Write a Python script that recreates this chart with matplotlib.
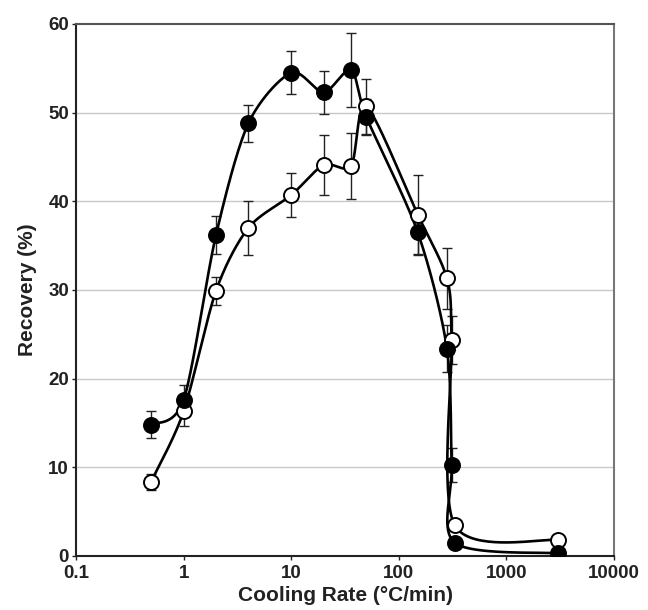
import numpy as np
import matplotlib
matplotlib.use("Agg")
import matplotlib.pyplot as plt

plt.rcParams['font.family'] = ['Liberation Sans', 'DejaVu Sans']

# Data
rate = [0.5, 1, 2, 4, 10, 20, 36, 50, 150, 280, 310, 330, 3000]
filled_y = [14.8, 17.6, 36.2, 48.8, 54.5, 52.3, 54.8, 49.5, 36.5, 23.4, 10.3, 1.5, 0.3]
filled_err = [1.5, 1.7, 2.1, 2.1, 2.4, 2.4, 4.2, 2.0, 2.4, 2.6, 1.9, 0.0, 0.0]
open_y = [8.4, 16.3, 29.9, 37.0, 40.7, 44.1, 44.0, 50.7, 38.5, 31.3, 24.4, 3.5, 1.8]
open_err = [0.9, 1.6, 1.6, 3.0, 2.5, 3.4, 3.7, 3.1, 4.5, 3.4, 2.7, 0.0, 0.0]

xticks = [0.1, 1, 10, 100, 1000, 10000]
xticklabels = ['0.1', '1', '10', '100', '1000', '10000']
yticks = [0, 10, 20, 30, 40, 50, 60]

W, H, DPI = 648, 610, 100
fig = plt.figure(figsize=(W / DPI, H / DPI), dpi=DPI)
ax = fig.add_axes([76 / W, 1 - 556 / H, (614 - 76) / W, (556 - 24) / H])
ax.set_xscale('log')
ax.set_xlim(0.1, 10000)
ax.set_ylim(0, 60)

# screen-space scaling for smoothing (px per decade / px per unit)
sx, sy = 107.6, 8.867


def smooth(xs, ys, n=40, k=7.0):
    px = np.log10(np.asarray(xs, float)) * sx
    py = np.asarray(ys, float) * sy
    P = np.column_stack([px, py])
    m = len(P)
    out = []
    for i in range(m - 1):
        p0 = P[i - 1] if i > 0 else P[i]
        p1 = P[i]
        p2 = P[i + 1]
        p3 = P[i + 2] if i + 2 < m else P[i + 1]
        c1 = p1 + (p2 - p0) / k
        c2 = p2 - (p3 - p1) / k
        t = np.linspace(0, 1, n)[:, None]
        seg = ((1 - t) ** 3) * p1 + 3 * ((1 - t) ** 2) * t * c1 + 3 * (1 - t) * t ** 2 * c2 + t ** 3 * p2
        out.append(seg if i == 0 else seg[1:])
    C = np.vstack(out)
    return 10 ** (C[:, 0] / sx), C[:, 1] / sy


for ys in (open_y, filled_y):
    cx, cy = smooth(rate, ys)
    ax.plot(cx, cy, color='black', lw=1.9, zorder=3, solid_capstyle='round')

for ys, err in ((open_y, open_err), (filled_y, filled_err)):
    e = np.array(err)
    mask = e > 0
    ax.errorbar(np.array(rate)[mask], np.array(ys)[mask], yerr=e[mask], fmt='none',
                ecolor='#222222', elinewidth=1.0, capsize=3.5, capthick=1.0, zorder=2)

ax.plot(rate, open_y, 'o', ms=10.8, mfc='white', mec='black', mew=1.4, zorder=4, linestyle='none')
ax.plot(rate, filled_y, 'o', ms=10.8, mfc='black', mec='black', mew=1.4, zorder=5, linestyle='none')

# grid
for yv in yticks[1:-1]:
    ax.axhline(yv, color='#c8c8c8', lw=1.0, zorder=1)

ax.set_xticks(xticks)
ax.set_xticklabels(xticklabels)
ax.xaxis.set_minor_locator(matplotlib.ticker.NullLocator())
ax.set_yticks(yticks)
ax.tick_params(axis='both', direction='out', length=3, width=1.0, labelsize=13.5, colors='#222222')
ax.tick_params(axis='x', pad=3.5)
ax.tick_params(axis='y', pad=2)
for lab in ax.get_xticklabels() + ax.get_yticklabels():
    lab.set_fontweight('bold')

ax.spines['left'].set_color('#222222')
ax.spines['bottom'].set_color('#222222')
ax.spines['left'].set_linewidth(1.5)
ax.spines['bottom'].set_linewidth(1.5)
ax.spines['top'].set_color('#555555')
ax.spines['top'].set_linewidth(1.5)
ax.spines['right'].set_color('#777777')
ax.spines['right'].set_linewidth(1.5)

ax.set_xlabel('Cooling Rate (°C/min)', fontsize=15, fontweight='bold', color='#222222', labelpad=3)
ax.set_ylabel('Recovery (%)', fontsize=15, fontweight='bold', color='#222222', labelpad=8)

fig.savefig('out.png', dpi=DPI)
